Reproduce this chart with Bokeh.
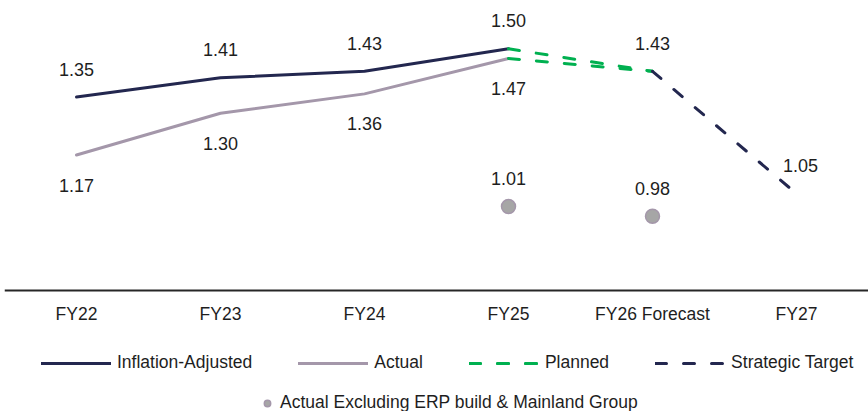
from bokeh.plotting import figure
from bokeh.models import (FactorRange, Range1d, Legend, LegendItem, ColumnDataSource)
from bokeh.core.properties import value
from bokeh.embed import file_html
from bokeh.resources import INLINE

# ---- data -------------------------------------------------------------
categories = ["FY22", "FY23", "FY24", "FY25", "FY26 Forecast", "FY27"]

adj_years = ["FY22", "FY23", "FY24", "FY25"]
inflation_adjusted = [1.35, 1.41, 1.43, 1.50]
actual = [1.17, 1.30, 1.36, 1.47]

planned_years = ["FY25", "FY26 Forecast"]
planned_from_adjusted = [1.50, 1.43]
planned_from_actual = [1.47, 1.43]

target_years = ["FY26 Forecast", "FY27"]
strategic_target = [1.43, 1.05]

excl_years = ["FY25", "FY26 Forecast"]
actual_excl = [1.01, 0.98]

# ---- styling ----------------------------------------------------------
NAVY = "#23274f"
GREY = "#a497aa"
GREEN = "#00b050"
DOT_FILL = "#a6a6a6"
TEXT = "#1e1e1e"
FONT = "Liberation Sans"

W, H = 868, 411
PX_PER_UNIT = 322.0
Y_TOP = 1.65

p = figure(
    width=W, height=H,
    x_range=FactorRange(*categories, range_padding=0),
    y_range=Range1d(Y_TOP - H / PX_PER_UNIT, Y_TOP),
    output_backend="svg", toolbar_location=None,
    min_border_left=4, min_border_right=0, min_border_top=0, min_border_bottom=0,
)
p.outline_line_color = None
p.background_fill_color = None
p.border_fill_color = "white"
p.xgrid.visible = False
p.ygrid.visible = False
p.yaxis.visible = False

# category axis sitting on the 0.75 baseline
xa = p.xaxis[0]
xa.fixed_location = Y_TOP - 290 / PX_PER_UNIT
xa.axis_line_color = "#262626"
xa.axis_line_width = 2
xa.major_tick_line_color = None
xa.minor_tick_line_color = None
xa.major_label_standoff = 7
xa.major_label_text_font = FONT
xa.major_label_text_font_size = "17.5px"
xa.major_label_text_color = TEXT

# ---- series -----------------------------------------------------------
r_adj = p.line(adj_years, inflation_adjusted, line_color=NAVY, line_width=3,
               line_join="round", line_cap="round")
r_act = p.line(adj_years, actual, line_color=GREY, line_width=3,
               line_join="round", line_cap="round")
r_pl1 = p.line(planned_years, planned_from_adjusted, line_color=GREEN, line_width=3,
               line_dash="11 17", line_cap="round")
r_pl2 = p.line(planned_years, planned_from_actual, line_color=GREEN, line_width=3,
               line_dash="11 17", line_cap="round")
r_tgt = p.line(target_years, strategic_target, line_color=NAVY, line_width=3,
               line_dash="11 17", line_cap="round")
r_exc = p.scatter(excl_years, actual_excl, size=14, fill_color=DOT_FILL,
                  line_color=GREY, line_width=1.5)

# ---- value labels -----------------------------------------------------
def labels(xs, ys, dy, dx=0):
    src = ColumnDataSource(dict(x=xs, y=ys, t=[f"{v:.2f}" for v in ys]))
    p.text(x="x", y="y", text="t", source=src, x_offset=dx, y_offset=dy,
           text_align="center", text_baseline="middle",
           text_font=value(FONT), text_font_size="18px", text_color=TEXT)

labels(adj_years, inflation_adjusted, -28)
labels(adj_years, actual, 30)
labels(["FY26 Forecast"], [planned_from_adjusted[1]], -28)
labels(["FY27"], [strategic_target[1]], -28, dx=4)
labels(excl_years, actual_excl, -28)

# ---- legends ----------------------------------------------------------
leg1 = Legend(
    items=[
        LegendItem(label="Inflation-Adjusted", renderers=[r_adj]),
        LegendItem(label="Actual", renderers=[r_act]),
        LegendItem(label="Planned", renderers=[r_pl1, r_pl2]),
        LegendItem(label="Strategic Target", renderers=[r_tgt]),
    ],
    orientation="horizontal", location=(37, 38),
    glyph_width=70, glyph_height=20, label_height=20, label_standoff=6,
    spacing=46, padding=0, margin=0,
    border_line_color=None, background_fill_alpha=0,
    label_text_font=FONT, label_text_font_size="17.5px", label_text_color=TEXT,
)
leg2 = Legend(
    items=[LegendItem(label="Actual Excluding ERP build & Mainland Group", renderers=[r_exc])],
    orientation="horizontal", location=(253, -2),
    glyph_width=20, glyph_height=16, label_height=16, label_standoff=3,
    padding=0, margin=0,
    border_line_color=None, background_fill_alpha=0,
    label_text_font=FONT, label_text_font_size="17.5px", label_text_color=TEXT,
)
p.add_layout(leg1, "center")
p.add_layout(leg2, "center")

open("out.html", "w").write(file_html(p, INLINE))
